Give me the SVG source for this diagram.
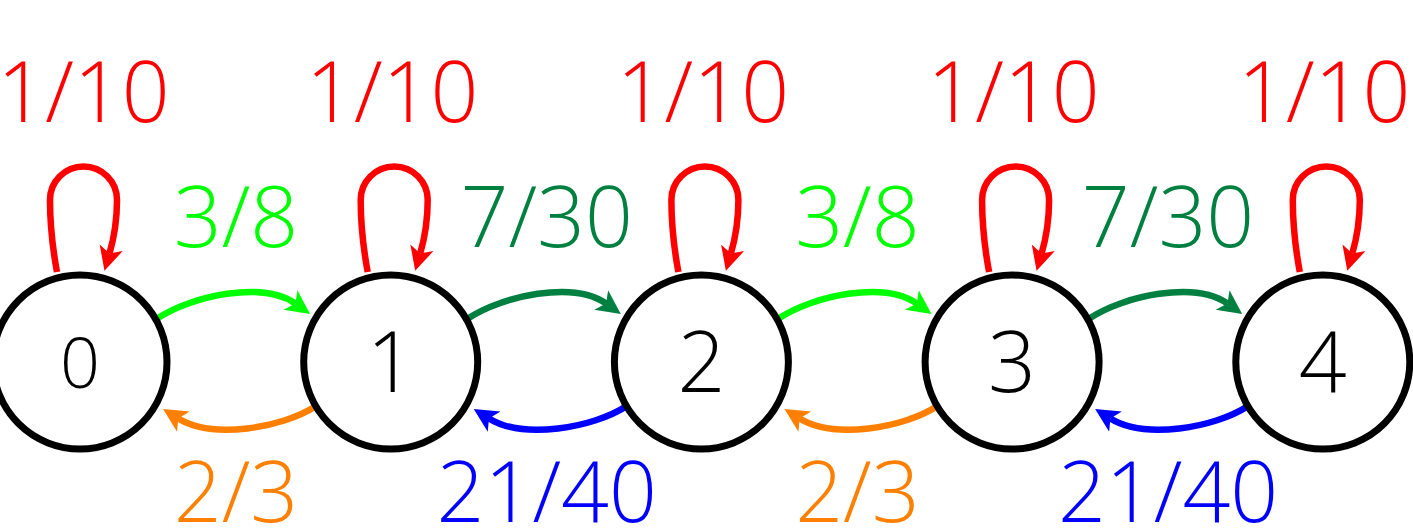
<svg xmlns="http://www.w3.org/2000/svg" width="1413" height="530" viewBox="0 0 1413 530">
<style>
.node circle{fill:#fff;stroke:#000;stroke-width:7}
.node text{font-family:"Open Sans","Liberation Sans",sans-serif;font-weight:300;font-size:84px;fill:#000;text-anchor:middle}
.lbl{font-family:"Open Sans","Liberation Sans",sans-serif;font-weight:300;font-size:84px;text-anchor:middle}
.e{fill:none;stroke-width:6.5}
.red{stroke:#ff0000}.lime{stroke:#00ff00}.dg{stroke:#008040}.or{stroke:#ff8000}.bl{stroke:#0000ff}
</style>
<defs>
<marker id="m-red" markerUnits="userSpaceOnUse" markerWidth="30" markerHeight="30" viewBox="0 -15 30 30" refX="6" refY="0" orient="auto"><path d="M0,-12 L24,0 L0,12 L6,0 Z" fill="#ff0000"/></marker>
<marker id="m-lime" markerUnits="userSpaceOnUse" markerWidth="30" markerHeight="30" viewBox="0 -15 30 30" refX="6" refY="0" orient="auto"><path d="M0,-12 L24,0 L0,12 L6,0 Z" fill="#00ff00"/></marker>
<marker id="m-dg" markerUnits="userSpaceOnUse" markerWidth="30" markerHeight="30" viewBox="0 -15 30 30" refX="6" refY="0" orient="auto"><path d="M0,-12 L24,0 L0,12 L6,0 Z" fill="#008040"/></marker>
<marker id="m-or" markerUnits="userSpaceOnUse" markerWidth="30" markerHeight="30" viewBox="0 -15 30 30" refX="6" refY="0" orient="auto"><path d="M0,-12 L24,0 L0,12 L6,0 Z" fill="#ff8000"/></marker>
<marker id="m-bl" markerUnits="userSpaceOnUse" markerWidth="30" markerHeight="30" viewBox="0 -15 30 30" refX="6" refY="0" orient="auto"><path d="M0,-12 L24,0 L0,12 L6,0 Z" fill="#0000ff"/></marker>
</defs>
<g id="connectors">
<g transform="translate(80,0)"><path class="e red" marker-end="url(#m-red)" d="M-23,272 C-28,245 -30,222 -30,200 A33.5,33.5 0 0 1 37,200 C37,220 34,238 29.5,253.5"/></g>
<g transform="translate(390.7,0)"><path class="e red" marker-end="url(#m-red)" d="M-23,272 C-28,245 -30,222 -30,200 A33.5,33.5 0 0 1 37,200 C37,220 34,238 29.5,253.5"/></g>
<g transform="translate(701.4,0)"><path class="e red" marker-end="url(#m-red)" d="M-23,272 C-28,245 -30,222 -30,200 A33.5,33.5 0 0 1 37,200 C37,220 34,238 29.5,253.5"/></g>
<g transform="translate(1012.1,0)"><path class="e red" marker-end="url(#m-red)" d="M-23,272 C-28,245 -30,222 -30,200 A33.5,33.5 0 0 1 37,200 C37,220 34,238 29.5,253.5"/></g>
<g transform="translate(1322.8,0)"><path class="e red" marker-end="url(#m-red)" d="M-23,272 C-28,245 -30,222 -30,200 A33.5,33.5 0 0 1 37,200 C37,220 34,238 29.5,253.5"/></g>
<path class="e lime" marker-end="url(#m-lime)" d="M158,318 C191.6,296 262.6,280.3 295.4,303.5"/>
<path class="e dg" marker-end="url(#m-dg)" d="M468.7,318 C502.3,296 573.3,280.3 606.1,303.5"/>
<path class="e lime" marker-end="url(#m-lime)" d="M779.4,318 C813,296 884,280.3 916.8,303.5"/>
<path class="e dg" marker-end="url(#m-dg)" d="M1090.1,318 C1123.7,296 1194.7,280.3 1227.5,303.5"/>
<path class="e or" marker-end="url(#m-or)" d="M316,406 C282.4,428 212.3,439.7 178.3,418.5"/>
<path class="e bl" marker-end="url(#m-bl)" d="M626.7,406 C593.1,428 523,439.7 489,418.5"/>
<path class="e or" marker-end="url(#m-or)" d="M937.4,406 C903.8,428 833.7,439.7 799.7,418.5"/>
<path class="e bl" marker-end="url(#m-bl)" d="M1248.1,406 C1214.5,428 1144.4,439.7 1110.4,418.5"/>
</g>
<g id="labels">
<text class="lbl" fill="#ff0000" x="83.5" y="122">1/10</text>
<text class="lbl" fill="#ff0000" x="392.2" y="122">1/10</text>
<text class="lbl" fill="#ff0000" x="702.9" y="122">1/10</text>
<text class="lbl" fill="#ff0000" x="1013.6" y="122">1/10</text>
<text class="lbl" fill="#ff0000" x="1324.3" y="122">1/10</text>
<text class="lbl" fill="#00ff00" x="236" y="247">3/8</text>
<text class="lbl" fill="#008040" x="546.7" y="247">7/30</text>
<text class="lbl" fill="#00ff00" x="857.4" y="247">3/8</text>
<text class="lbl" fill="#008040" x="1168.1" y="247">7/30</text>
<text class="lbl" fill="#ff8000" x="236" y="522">2/3</text>
<text class="lbl" fill="#0000ff" x="546.7" y="522">21/40</text>
<text class="lbl" fill="#ff8000" x="857.4" y="522">2/3</text>
<text class="lbl" fill="#0000ff" x="1168.1" y="522">21/40</text>
</g>
<g id="node0" class="node"><circle cx="80" cy="362" r="87"/><text x="80" y="388" style="font-size:70px">0</text></g>
<g id="node1" class="node"><circle cx="390.7" cy="362" r="87"/><text x="390.7" y="392">1</text></g>
<g id="node2" class="node"><circle cx="701.4" cy="362" r="87"/><text x="701.4" y="392">2</text></g>
<g id="node3" class="node"><circle cx="1012.1" cy="362" r="87"/><text x="1012.1" y="392">3</text></g>
<g id="node4" class="node"><circle cx="1322.8" cy="362" r="87"/><text x="1322.8" y="392">4</text></g>
</svg>
